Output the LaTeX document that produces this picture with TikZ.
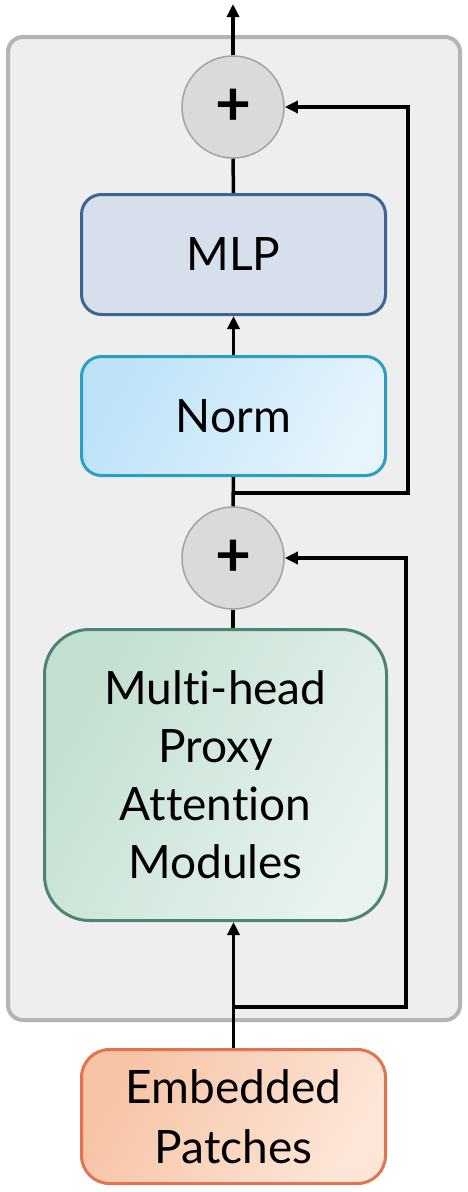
\documentclass[tikz,border=0pt]{standalone}
\usepackage{fontspec}
\setmainfont{Lato}[Ligatures=CommonOff]
\usetikzlibrary{arrows.meta,calc}
\definecolor{outerfill}{HTML}{EEEEEE}
\definecolor{outerdraw}{HTML}{B4B4B4}
\definecolor{mlpfill}{HTML}{D6DFEB}
\definecolor{mlpdraw}{HTML}{3D6594}
\definecolor{normA}{HTML}{BDE2F8}
\definecolor{normB}{HTML}{E6F4FC}
\definecolor{normdraw}{HTML}{2A9FC0}
\definecolor{attA}{HTML}{C3DFD1}
\definecolor{attB}{HTML}{E8F3EE}
\definecolor{attdraw}{HTML}{4E8570}
\definecolor{embA}{HTML}{F7C3A5}
\definecolor{embB}{HTML}{FDE6D8}
\definecolor{embdraw}{HTML}{E07452}
\definecolor{circfill}{HTML}{DADADA}
\definecolor{circdraw}{HTML}{A3A3A3}
\tikzset{
  blockbox/.style={rectangle, rounded corners=20pt, line width=3pt, align=center,
    font=\fontsize{46}{60}\selectfont, inner sep=0pt},
  addnode/.style={circle, minimum size=102pt, inner sep=0pt, fill=circfill, draw=circdraw,
    line width=1.5pt, font=\fontsize{62}{62}\selectfont\bfseries},
  conn/.style={line width=3.5pt, black},
  arr/.style={conn, -{Triangle[length=13pt,width=12pt]}},
}
\begin{document}
\begin{tikzpicture}[x=1pt,y=-1pt]
\useasboundingbox (0,0) rectangle (468,1192);
\fill[white] (0,0) rectangle (468,1192);
% outer frame
\draw[outerdraw, fill=outerfill, line width=4pt, rounded corners=15pt] (8,37) rectangle (460,1020);
% nodes
\node[addnode] (c1) at (233,107) {+};
\node[blockbox, minimum width=304pt, minimum height=120pt, fill=mlpfill, draw=mlpdraw] (mlp) at (233.5,254.5) {MLP};
\node[blockbox, minimum width=304pt, minimum height=119pt, draw=normdraw,
  left color=normA, right color=normB, shading angle=60] (norm) at (233.5,416) {Norm};
\node[addnode] (c2) at (233,558) {+};
\node[blockbox, minimum width=342pt, minimum height=291pt, rounded corners=45pt, draw=attdraw,
  left color=attA, right color=attB, shading angle=60,
  font=\fontsize{46}{58}\selectfont] (att) at (215.5,775) {Multi-head\\Proxy\\Attention\\Modules};
\node[blockbox, minimum width=304pt, minimum height=134pt, rounded corners=28pt, draw=embdraw,
  left color=embA, right color=embB, shading angle=60] (emb) at (233.5,1116.5) {Embedded\\Patches};
% coordinates
\coordinate (out) at (233,4);
\coordinate (j1) at (233,493);
\coordinate (r1) at (408,493);
\coordinate (r2) at (408,107);
\coordinate (j2) at (233,1007);
\coordinate (s1) at (406,1007);
\coordinate (s2) at (406,558);
% connectors
\draw[arr] (c1.north) -- (out);
\draw[conn] (mlp.north) -- (c1.south);
\draw[arr] (norm.north) -- (mlp.south);
\draw[conn] (norm.south) -- (c2.north);
\draw[arr] (j1) -- (r1) -- (r2) -- (c1.east);
\draw[conn] (c2.south) -- (c2.south |- att.north);
\draw[arr] (emb.north) -- (emb.north |- att.south);
\draw[arr] (j2) -- (s1) -- (s2) -- (c2.east);
\end{tikzpicture}
\end{document}
